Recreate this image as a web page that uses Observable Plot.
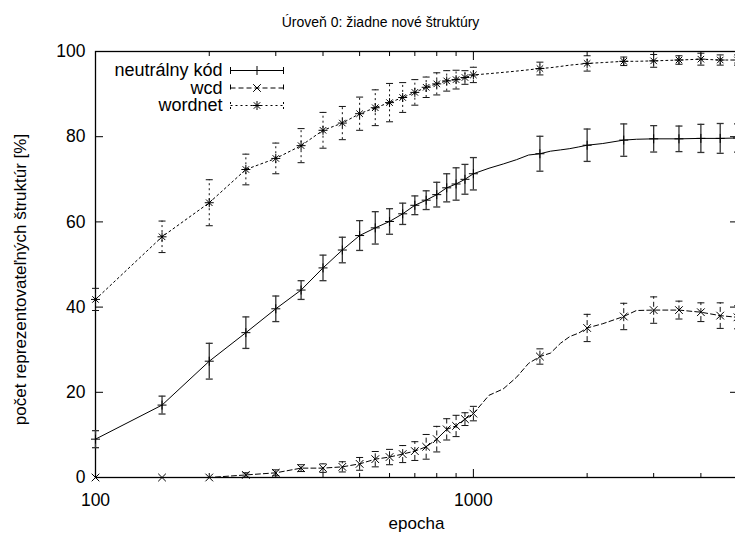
<!DOCTYPE html>
<html><head><meta charset="utf-8">
<script src="https://cdn.jsdelivr.net/npm/d3@7"></script>
<script src="https://cdn.jsdelivr.net/npm/@observablehq/plot@0.6"></script>
<style>
html,body{margin:0;padding:0;overflow:hidden;background:#fff;}
#chart{width:735px;height:534px;overflow:hidden;}
#chart svg{max-width:none !important;}
</style></head><body><div id="chart"></div>
<script>
const titleText = "Úroveň 0: žiadne nové štruktúry";
const xLabel = "epocha";
const yLabel = "počet reprezentovateľných štruktúr [%]";
const seriesNames = ["neutrálny kód", "wcd", "wordnet"];

const epochs = [100,150,200,250,300,350,400,450,500,550,600,650,700,750,800,850,900,950,1000,1500,2000,2500,3000,3500,4000,4500,5000];
const neutralMean = [9,17,27.3,34,39.6,44,49.2,53.4,56.8,58.6,60.1,61.9,63.9,65.1,66.4,68,68.9,70,71.3,76,78,79.2,79.5,79.5,79.6,79.6,79.7];
const neutralErr  = [2,2.1,4.2,3.7,3,2.2,3,3,3.5,3.8,3,2.5,2.2,2.2,2.9,3.3,3.8,3.5,3.8,4.1,3.8,3.8,3.1,3,3.3,3.5,3.3];
const wcdMean = [0,0,0,0.6,1.1,2.2,2.2,2.5,3.2,4.3,4.8,5.5,6.2,7.2,9,11.3,12.1,13.7,15,28.4,35.1,37.8,39.3,39.3,38.8,38,37.6];
const wcdErr  = [0,0,0,0.5,0.7,0.8,1,1.2,1.5,1.8,1.8,2,2.2,2.9,3,2.5,2.5,1.5,1.7,1.8,3.2,3.1,3.1,2.1,2.2,3,2.7];
const wordnetMean = [41.8,56.5,64.5,72.3,74.9,77.9,81.5,83.2,85.4,86.8,88,89.2,90.4,91.6,92.4,93.1,93.4,93.9,94.5,96,97.2,97.7,97.8,98,98.2,98,98];
const wordnetErr  = [2.6,3.7,5.4,3.6,3.6,4,4.2,3.9,3.9,4.2,4.5,3.5,3,2.4,2.6,2.4,2.2,1.6,1.8,1.5,1.8,1,1.5,1,1.4,1.2,1.2];

// extra samples of the drawn curves between the error-bar epochs
const curveEpochs  = [1100,1200,1300,1400,1600,1700,1800,1900,2200,2700];
const neutralCurve = [72.6,73.6,74.6,75.7,76.6,76.9,77.2,77.6,78.4,79.4];
const wcdCurve     = [19.3,20.8,23.5,26.8,29.2,31.5,33.1,33.9,36.1,39.2];
const wordnetCurve = [94.8,95.1,95.4,95.7,96.2,96.5,96.8,97.0,97.4,97.7];

const yTicks = [0,20,40,60,80,100];
const xMajor = [100,1000];
const xMinor = [200,300,400,500,600,700,800,900,2000,3000,4000,5000];

const means = [neutralMean, wcdMean, wordnetMean];
const errs = [neutralErr, wcdErr, wordnetErr];
const curves = [neutralCurve, wcdCurve, wordnetCurve];
const dashes = [null, "5,3", "2,3"];

const points = seriesNames.map((s, k) => epochs.map((e, i) => ({series: s, epoch: e, mean: means[k][i], err: errs[k][i]})));
const curveRows = seriesNames.map((s, k) =>
  [...epochs.map((e, i) => ({epoch: e, v: means[k][i]})),
   ...curveEpochs.map((e, i) => ({epoch: e, v: curves[k][i]}))].sort((a, b) => a.epoch - b.epoch));

const segSym = (segs) => ({draw(ctx, size) {
  const r = Math.sqrt(size / Math.PI);
  for (const [x1, y1, x2, y2] of segs) { ctx.moveTo(x1 * r, y1 * r); ctx.lineTo(x2 * r, y2 * r); }
}});
const plusSegs = [[-1,0,1,0],[0,-1,0,1]];
const crossSegs = [[-.85,-.85,.85,.85],[-.85,.85,.85,-.85]];
const starSegs = [...plusSegs, [-.72,-.72,.72,.72],[-.72,.72,.72,-.72]];
const markerSyms = [segSym(plusSegs), segSym(crossSegs), segSym(starSegs)];
const capSym = segSym([[-1,0,1,0]]);
const legendLine = {draw(ctx) {
  ctx.moveTo(-26.5, 0); ctx.lineTo(26.5, 0);
  ctx.moveTo(-26.5, -3.5); ctx.lineTo(-26.5, 3.5);
  ctx.moveTo(26.5, -3.5); ctx.lineTo(26.5, 3.5);
}};

const marks = [];
seriesNames.forEach((s, k) => {
  const pts = points[k].filter(d => d.err > 0);
  const dash = dashes[k];
  const errStroke = k === 0 ? "#333" : "#111";
  const errW = k === 0 ? 1.3 : 1;
  marks.push(Plot.line(curveRows[k], {x: "epoch", y: "v", stroke: "black", strokeWidth: 1, strokeDasharray: dash}));
  marks.push(Plot.ruleX(pts, {x: "epoch", y1: d => d.mean - d.err, y2: d => d.mean + d.err, stroke: errStroke, strokeWidth: errW, strokeDasharray: dash}));
  marks.push(Plot.dot(pts, {x: "epoch", y: d => d.mean - d.err, symbol: capSym, r: 3.5, fill: "none", stroke: errStroke, strokeWidth: errW}));
  marks.push(Plot.dot(pts, {x: "epoch", y: d => d.mean + d.err, symbol: capSym, r: 3.5, fill: "none", stroke: errStroke, strokeWidth: errW}));
  marks.push(Plot.dot(points[k], {x: "epoch", y: "mean", symbol: markerSyms[k], r: 4.5, fill: "none", stroke: "black", strokeWidth: 1}));
  // legend entry
  const dy = 19 + k * 17.5;
  marks.push(Plot.text([s], {frameAnchor: "top-left", dx: 127, dy, textAnchor: "end", lineAnchor: "middle", fontSize: 18, fill: "black"}));
  marks.push(Plot.dot([s], {frameAnchor: "top-left", dx: 161.5, dy, symbol: legendLine, r: 1, fill: "none", stroke: "black", strokeWidth: 1, strokeDasharray: dash}));
  marks.push(Plot.dot([s], {frameAnchor: "top-left", dx: 161.5, dy, symbol: markerSyms[k], r: 4.5, fill: "none", stroke: "black", strokeWidth: 1}));
});

const chart = Plot.plot({
  width: 745, height: 534,
  marginLeft: 95, marginRight: 8, marginTop: 51, marginBottom: 57,
  style: {fontFamily: "'Liberation Sans', Arial, sans-serif", fontSize: "17px", color: "black", background: "white", maxWidth: "none"},
  x: {type: "log", domain: [100, 5000]},
  y: {domain: [0, 100]},
  marks: [
    Plot.axisY(yTicks, {anchor: "left", tickSize: -8, tickPadding: 18, fontSize: 17.5, label: null, tickFormat: d => String(d)}),
    Plot.axisY(yTicks, {anchor: "right", tickSize: -8, tickFormat: () => "", label: null}),
    Plot.axisX(xMajor, {anchor: "bottom", tickSize: -8, tickPadding: 24, fontSize: 17.5, label: null, tickFormat: d => String(d)}),
    Plot.axisX(xMinor, {anchor: "bottom", tickSize: -4, tickFormat: () => "", label: null}),
    Plot.axisX(xMajor, {anchor: "top", tickSize: -8, tickFormat: () => "", label: null}),
    Plot.axisX(xMinor, {anchor: "top", tickSize: -4, tickFormat: () => "", label: null}),
    Plot.frame({stroke: "black", strokeWidth: 1.3}),
    ...marks,
    Plot.text([titleText], {frameAnchor: "top", dx: -36, dy: -29, lineAnchor: "middle", fontSize: 14, fill: "black"}),
    Plot.text([xLabel], {frameAnchor: "bottom", dy: 46, lineAnchor: "middle", fontSize: 17, fill: "black"}),
    Plot.text([yLabel], {frameAnchor: "left", dx: -75, dy: 15, rotate: -90, textAnchor: "middle", lineAnchor: "middle", fontSize: 17, fill: "black"})
  ]
});
document.getElementById("chart").appendChild(chart);
</script></body></html>
